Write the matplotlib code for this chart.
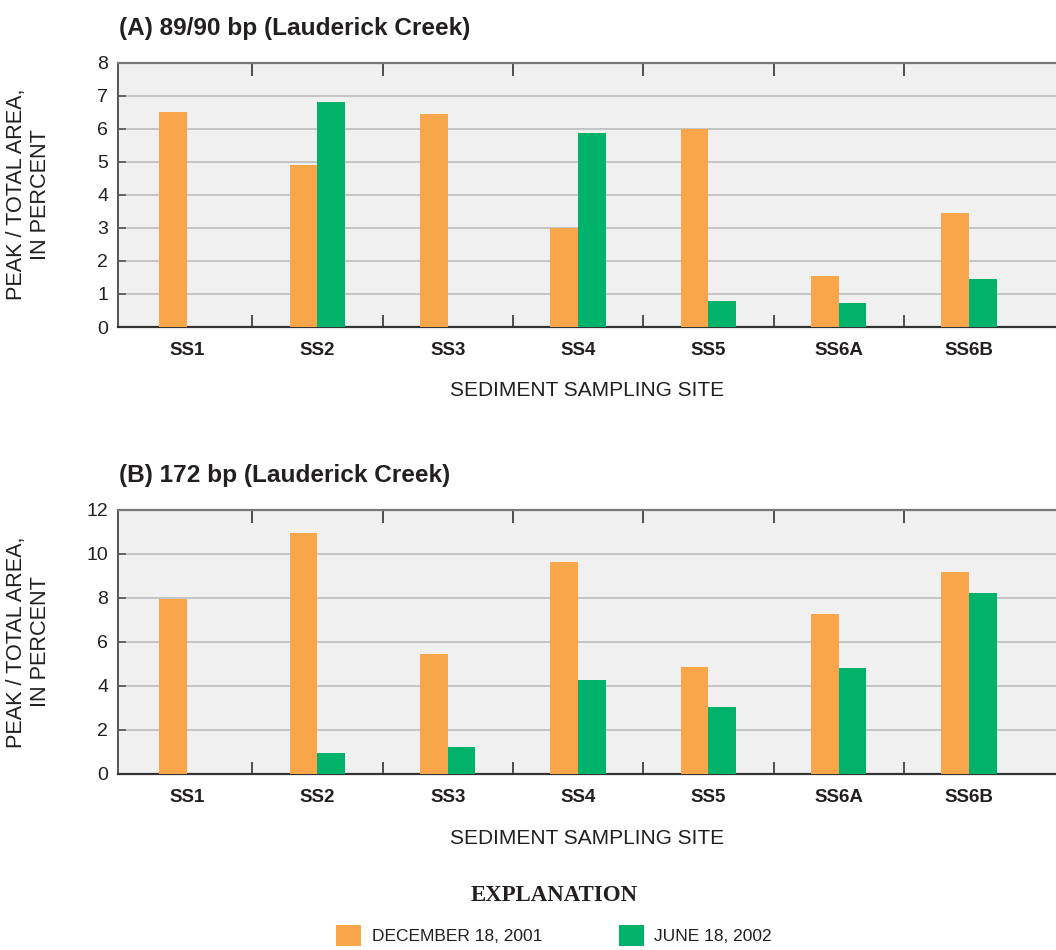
import matplotlib.pyplot as plt
import numpy as np
from matplotlib.ticker import FixedLocator

plt.rcParams['font.family'] = ['Liberation Sans', 'DejaVu Sans']

sites = ['SS1', 'SS2', 'SS3', 'SS4', 'SS5', 'SS6A', 'SS6B']
series_labels = ['DECEMBER 18, 2001', 'JUNE 18, 2002']

# peak / total area, percent (None = no sample)
bp90_dec = [6.5, 4.9, 6.45, 3.0, 6.0, 1.55, 3.45]
bp90_jun = [None, 6.8, None, 5.87, 0.79, 0.73, 1.45]
bp172_dec = [7.95, 10.95, 5.45, 9.64, 4.86, 7.27, 9.18]
bp172_jun = [None, 0.95, 1.23, 4.27, 3.05, 4.82, 8.23]

orange = '#F9A54A'
green = '#00B26A'

W, H = 1056, 950
fig = plt.figure(figsize=(W / 100, H / 100), dpi=100)


def px_axes(left, top, right, bottom):
    return fig.add_axes([left / W, 1 - bottom / H, (right - left) / W, (bottom - top) / H])


def panel(ax, dec, jun, ymax, ystep, title):
    x = np.arange(len(sites))
    w = 0.212
    dec_v = [np.nan if v is None else v for v in dec]
    jun_v = [np.nan if v is None else v for v in jun]
    b1 = ax.bar(x - w / 2, dec_v, w, color=orange, zorder=3)
    b2 = ax.bar(x + w / 2, jun_v, w, color=green, zorder=3)

    ax.set_facecolor('#F0F0F0')
    ax.set_xlim(-0.53, 6.667)
    ax.set_ylim(0, ymax)
    ax.set_yticks(np.arange(0, ymax + 0.1, ystep))
    ax.yaxis.grid(True, color='#C4C4C4', linewidth=1.4, zorder=0)
    ax.set_axisbelow(True)

    ax.set_xticks(x)
    ax.set_xticklabels(sites, fontsize=13.5, fontweight='bold', color='#231F20')
    ax.xaxis.set_minor_locator(FixedLocator(x[:-1] + 0.5))
    ax.tick_params(axis='x', which='major', length=0, pad=11)
    ax.tick_params(axis='x', which='minor', direction='in', length=9,
                   width=1.2, color='#333333', top=True, bottom=True)
    ax.tick_params(axis='y', direction='in', length=6, width=1.2,
                   color='#555555', labelsize=14, labelcolor='#231F20', pad=7)

    ax.spines['right'].set_visible(False)
    ax.spines['top'].set_color('#777777')
    ax.spines['top'].set_linewidth(1.6)
    ax.spines['left'].set_color('#555555')
    ax.spines['left'].set_linewidth(1.4)
    ax.spines['bottom'].set_color('#333333')
    ax.spines['bottom'].set_linewidth(1.6)

    ax.set_xlabel('SEDIMENT SAMPLING SITE', fontsize=15, color='#231F20', labelpad=16)
    ax.set_ylabel('PEAK / TOTAL AREA,\nIN PERCENT', fontsize=15.6, color='#231F20',
                  linespacing=1.2)
    ax.yaxis.set_label_coords(-0.071, 0.5)
    ax.text(0.001, 1.13, title, transform=ax.transAxes, fontsize=17.6,
            fontweight='bold', color='#231F20', ha='left', va='center')
    return b1, b2


ax1 = px_axes(118, 62.5, 1056, 327)
bars = panel(ax1, bp90_dec, bp90_jun, 8, 1, '(A) 89/90 bp (Lauderick Creek)')

ax2 = px_axes(118, 510, 1056, 774)
panel(ax2, bp172_dec, bp172_jun, 12, 2, '(B) 172 bp (Lauderick Creek)')

leg = fig.legend(bars, series_labels, loc='upper center',
                 bbox_to_anchor=(554 / W, 1 - 869 / H), ncol=2, frameon=False,
                 fontsize=12.5, handlelength=1.45, handleheight=1.45,
                 handletextpad=0.6, columnspacing=4.4,
                 title='EXPLANATION',
                 title_fontproperties={'family': 'Liberation Serif',
                                       'weight': 'bold', 'size': 16.5})
leg._legend_box.sep = 14
for t in leg.get_texts():
    t.set_color('#231F20')
leg.get_title().set_color('#231F20')

fig.savefig('out.png', dpi=100)
